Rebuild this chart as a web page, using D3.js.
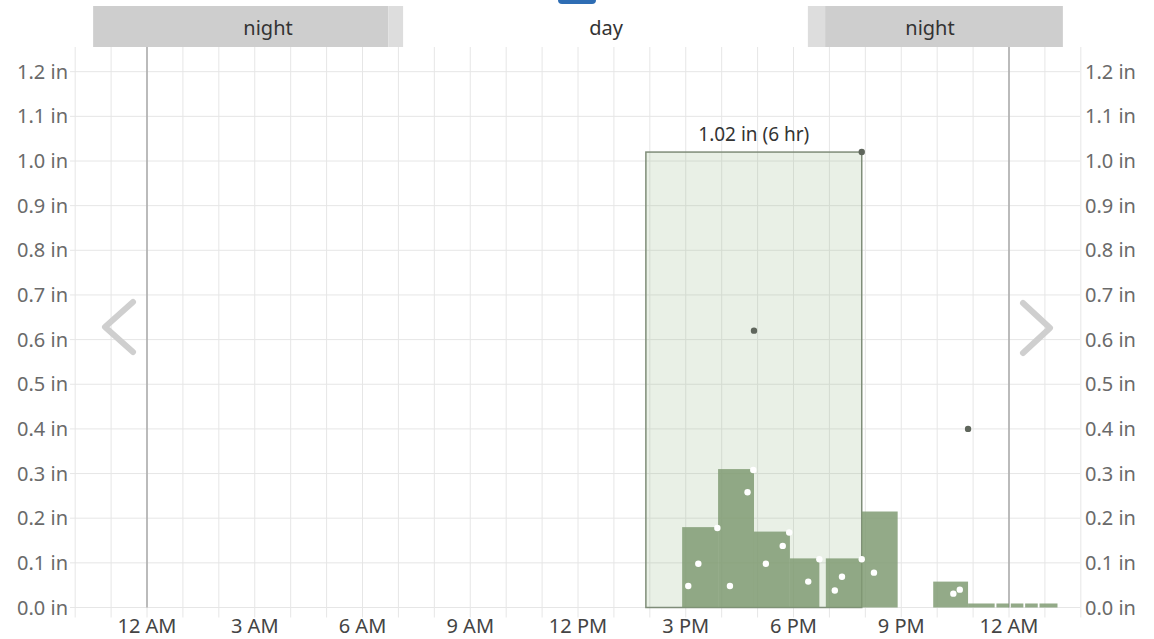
<!DOCTYPE html>
<html>
<head>
<meta charset="utf-8">
<script src="https://cdn.jsdelivr.net/npm/d3@7"></script>
<style>
  body { margin: 0; background: #fff; }
  svg { display: block; font-family: "Noto Sans", "Open Sans", sans-serif; }
</style>
</head>
<body>
<div id="chart"></div>
<script>
// hours are measured from midnight of the shown day (24 = next midnight)
const bandFrom = [-1.5, 6.72, 7.13, 18.4, 18.88];
const bandTo = [6.72, 7.13, 18.4, 18.88, 25.5];
const bandKind = ["night", "twilight", "day", "twilight", "night"];
const bandLabels = ["night", "day", "night"];
const bandLabelHours = [3.37, 12.78, 21.8];

const tickHours = [0, 3, 6, 9, 12, 15, 18, 21, 24];
const tickLabels = ["12 AM", "3 AM", "6 AM", "9 AM", "12 PM", "3 PM", "6 PM", "9 PM", "12 AM"];
const yTicks = [0, 0.1, 0.2, 0.3, 0.4, 0.5, 0.6, 0.7, 0.8, 0.9, 1.0, 1.1, 1.2];

// hourly precipitation bars
const barStart = [14.9, 15.9, 16.9, 17.9, 18.9, 19.9, 21.89, 22.86, 23.65, 24.05, 24.45, 24.85];
const barEnd = [15.9, 16.9, 17.9, 18.72, 19.9, 20.9, 22.86, 23.6, 24.0, 24.4, 24.8, 25.35];
const barValue = [0.18, 0.31, 0.17, 0.11, 0.11, 0.215, 0.058, 0.009, 0.009, 0.009, 0.009, 0.009];

// sub-hourly accumulation points (white)
const subHours = [15.07, 15.35, 15.88, 16.23, 16.72, 16.88, 17.23, 17.70, 17.88, 18.41, 18.72, 19.15, 19.35, 19.90, 20.24, 22.45, 22.63];
const subValues = [0.048, 0.098, 0.178, 0.048, 0.258, 0.308, 0.098, 0.138, 0.168, 0.058, 0.108, 0.038, 0.069, 0.108, 0.078, 0.031, 0.040];

// rolling total points (dark)
const totalHours = [19.9, 16.9, 22.86];
const totalValues = [1.02, 0.62, 0.40];

// max 6 hour window
const windowFrom = 13.89;
const windowTo = 19.9;
const windowValue = 1.02;
const windowLabel = "1.02 in (6 hr)";

const W = 1154, H = 639;
const svg = d3.select("#chart").append("svg").attr("width", W).attr("height", H);

const x = d3.scaleLinear().domain([0, 24]).range([147, 1009]);
const y = d3.scaleLinear().domain([0, 1.2]).range([607.5, 71.7]);
const bandTop = 6, bandBottom = 47;
const gridLeft = 70, gridRight = 1080;

// cropped control peeking at the top
svg.append("rect")
  .attr("x", 558).attr("y", -12).attr("width", 38).attr("height", 16)
  .attr("rx", 4).attr("fill", "#2e6db4");

// day / night bands
const bandColor = { night: "#cecece", twilight: "#dddddd", day: "none" };
svg.selectAll(".band")
  .data(bandKind)
  .join("rect")
  .attr("class", "band")
  .attr("x", (d, i) => x(bandFrom[i]))
  .attr("width", (d, i) => x(bandTo[i]) - x(bandFrom[i]))
  .attr("y", bandTop)
  .attr("height", bandBottom - bandTop)
  .attr("fill", d => bandColor[d]);

svg.selectAll(".band-label")
  .data(bandLabels)
  .join("text")
  .attr("x", (d, i) => x(bandLabelHours[i]))
  .attr("y", (bandTop + bandBottom) / 2 + 1)
  .attr("dy", "0.35em")
  .attr("text-anchor", "middle")
  .attr("font-size", 20)
  .attr("fill", "#333")
  .text(d => d);

// hourly gridlines
const hours = d3.range(-2, 27);
svg.selectAll(".vgrid")
  .data(hours)
  .join("line")
  .attr("x1", d => x(d)).attr("x2", d => x(d))
  .attr("y1", bandBottom).attr("y2", y(0) + 10)
  .attr("stroke", "#e6e6e6").attr("stroke-width", 1);

svg.selectAll(".hgrid")
  .data(yTicks)
  .join("line")
  .attr("x1", gridLeft).attr("x2", gridRight)
  .attr("y1", d => y(d)).attr("y2", d => y(d))
  .attr("stroke", "#e6e6e6").attr("stroke-width", 1);

// midnight lines
svg.selectAll(".midnight")
  .data([0, 24])
  .join("line")
  .attr("x1", d => x(d)).attr("x2", d => x(d))
  .attr("y1", bandBottom).attr("y2", y(0))
  .attr("stroke", "#a8a8a8").attr("stroke-width", 1.5);

// max window box
svg.append("rect")
  .attr("x", x(windowFrom))
  .attr("y", y(windowValue))
  .attr("width", x(windowTo) - x(windowFrom))
  .attr("height", y(0) - y(windowValue))
  .attr("fill", "#8fb283").attr("fill-opacity", 0.2)
  .attr("stroke", "#7f8d79").attr("stroke-width", 1.5);

svg.append("text")
  .attr("x", (x(windowFrom) + x(windowTo)) / 2)
  .attr("y", y(windowValue) - 18)
  .attr("dy", "0.35em")
  .attr("text-anchor", "middle")
  .attr("font-size", 19)
  .attr("fill", "#333")
  .text(windowLabel);

// bars
svg.selectAll(".bar")
  .data(barValue)
  .join("rect")
  .attr("class", "bar")
  .attr("x", (d, i) => x(barStart[i]))
  .attr("width", (d, i) => x(barEnd[i]) - x(barStart[i]))
  .attr("y", d => y(d))
  .attr("height", d => y(0) - y(d))
  .attr("fill", "#809b73").attr("fill-opacity", 0.85);

svg.selectAll(".sub")
  .data(subValues)
  .join("circle")
  .attr("cx", (d, i) => x(subHours[i]))
  .attr("cy", d => y(d))
  .attr("r", 3.2)
  .attr("fill", "#fff");

svg.selectAll(".total")
  .data(totalValues)
  .join("circle")
  .attr("cx", (d, i) => x(totalHours[i]))
  .attr("cy", d => y(d))
  .attr("r", 3.2)
  .attr("fill", "#5f665c");

// axes labels
const yFmt = d => d3.format(".1f")(d) + " in";
svg.selectAll(".ylab-left")
  .data(yTicks)
  .join("text")
  .attr("x", 68).attr("y", d => y(d))
  .attr("dy", "0.35em")
  .attr("text-anchor", "end")
  .attr("font-size", 20)
  .attr("fill", "#6a6a6a")
  .text(yFmt);

svg.selectAll(".ylab-right")
  .data(yTicks)
  .join("text")
  .attr("x", 1085).attr("y", d => y(d))
  .attr("dy", "0.35em")
  .attr("text-anchor", "start")
  .attr("font-size", 20)
  .attr("fill", "#6a6a6a")
  .text(yFmt);

svg.selectAll(".xlab")
  .data(tickLabels)
  .join("text")
  .attr("x", (d, i) => x(tickHours[i]))
  .attr("y", y(0) + 18)
  .attr("dy", "0.35em")
  .attr("text-anchor", "middle")
  .attr("font-size", 20)
  .attr("fill", "#444")
  .text(d => d);

// navigation chevrons
const chevron = d3.line();
svg.append("path")
  .attr("d", chevron([[133, 302], [105, 327], [133, 352]]))
  .attr("fill", "none").attr("stroke", "#cfcfcf")
  .attr("stroke-width", 6).attr("stroke-linecap", "round").attr("stroke-linejoin", "round");
svg.append("path")
  .attr("d", chevron([[1023, 303], [1050, 328], [1023, 353]]))
  .attr("fill", "none").attr("stroke", "#cfcfcf")
  .attr("stroke-width", 6).attr("stroke-linecap", "round").attr("stroke-linejoin", "round");
</script>
</body>
</html>
